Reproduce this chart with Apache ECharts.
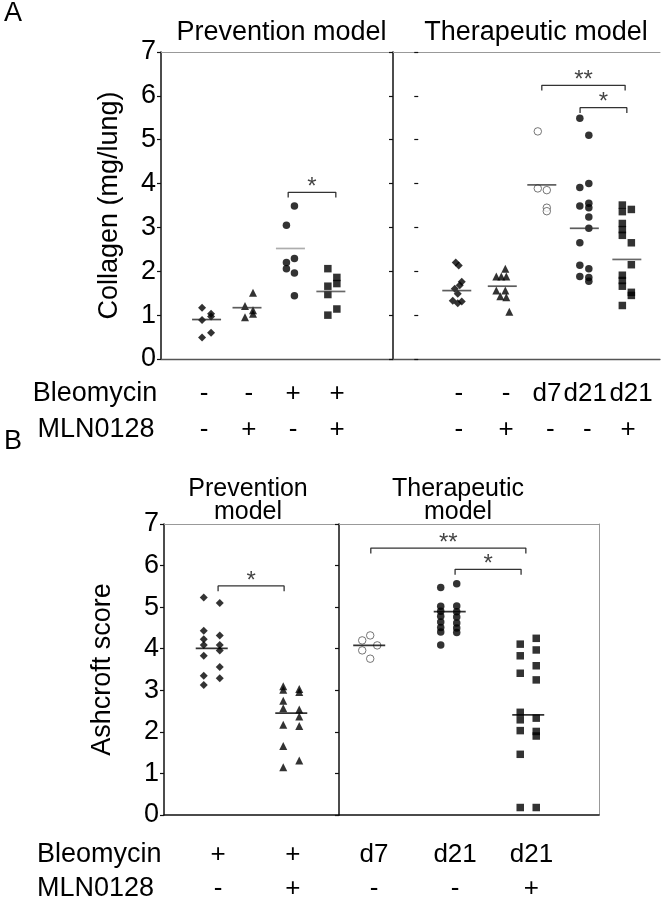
<!DOCTYPE html>
<html><head><meta charset="utf-8">
<script src="https://cdn.jsdelivr.net/npm/echarts@6/dist/echarts.min.js"></script>
<style>html,body{margin:0;padding:0;background:#fff}#c{width:668px;height:901px}</style>
</head><body><div id="c"></div><script>
// ================= DATA =================
const yTicks = [0, 1, 2, 3, 4, 5, 6, 7];
const yLabelA = 'Collagen (mg/lung)';
const yLabelB = 'Ashcroft score';
const titlesA = ['Prevention model', 'Therapeutic model'];
const titlesB = ['Prevention\nmodel', 'Therapeutic\nmodel'];
const rowNames = ['Bleomycin', 'MLN0128'];

// Panel A tick labels
const bleoA_prev = ['-', '-', '+', '+'];
const mlnA_prev  = ['-', '+', '-', '+'];
const bleoA_ther = ['-', '-', 'd7', 'd21', 'd21'];
const mlnA_ther  = ['-', '+', '-', '-', '+'];
// Panel B tick labels
const bleoB_prev = ['+', '+'];
const mlnB_prev  = ['-', '+'];
const bleoB_ther = ['d7', 'd21', 'd21'];
const mlnB_ther  = ['-', '-', '+'];

// Panel A – collagen (mg/lung), prevention model
const colPrev_ctrl   = [1.17, 1.03, 0.97, 0.89, 0.60, 0.49];
const colPrev_mln    = [1.51, 1.21, 1.11, 1.03, 0.95];
const colPrev_bleo   = [3.49, 3.05, 2.29, 2.20, 2.06, 1.96, 1.44];
const colPrev_bleoMln= [2.06, 1.86, 1.72, 1.66, 1.47, 1.14, 1.00];
const colPrev_means  = [0.90, 1.17, 2.52, 1.54];
// Panel A – collagen, therapeutic model
const colTher_ctrl   = [2.20, 2.13, 1.76, 1.68, 1.60, 1.49, 1.33, 1.31, 1.27];
const colTher_mln    = [2.06, 1.88, 1.88, 1.88, 1.56, 1.56, 1.43, 1.41, 1.08];
const colTher_d7     = [5.19, 3.89, 3.85, 3.45, 3.37];
const colTher_d21    = [5.49, 5.10, 4.00, 3.91, 3.55, 3.49, 3.45, 3.24, 2.98, 2.65, 2.14, 2.06, 1.88, 1.86, 1.77];
const colTher_d21Mln = [3.51, 3.41, 3.36, 3.09, 2.95, 2.82, 2.65, 2.15, 1.91, 1.79, 1.66, 1.52, 1.45, 1.22];
const colTher_means  = [1.56, 1.66, 3.97, 2.98, 2.27];
// Panel B – Ashcroft score
const ashPrev_bleo    = [5.23, 5.10, 4.43, 4.32, 4.23, 4.09, 4.09, 3.96, 3.83, 3.56, 3.35, 3.29, 3.13];
const ashPrev_bleoMln = [3.10, 3.03, 3.01, 2.96, 2.75, 2.57, 2.54, 2.37, 2.17, 2.14, 1.66, 1.31, 1.15];
const ashPrev_means   = [4.01, 2.45];
const ashTher_d7      = [4.32, 4.20, 4.08, 3.96, 3.76];
const ashTher_d21     = [5.56, 5.47, 5.03, 5.02, 4.90, 4.89, 4.78, 4.76, 4.64, 4.62, 4.51, 4.50, 4.40, 4.39, 4.09];
const ashTher_d21Mln  = [4.25, 4.11, 3.97, 3.83, 3.59, 3.41, 3.25, 2.47, 2.33, 2.29, 2.03, 2.01, 1.90, 1.46, 0.18, 0.18];
const ashTher_means   = [4.08, 4.89, 2.41];

// significance brackets: [fromGroup, toGroup, y, label]
const sigA_prev = [[3, 4, 3.80, '*']];
const sigA_ther = [[3, 5, 6.24, '**'], [4, 5, 5.73, '*']];
const sigB_prev = [[1, 2, 5.51, '*']];
const sigB_ther = [[1, 3, 6.42, '**'], [2, 3, 5.91, '*']];

// ================= LAYOUT (column jitter in px, nudges in axis units) =================
const J = {
  a1: [[-4.5,4.5,4.5,-4.5,4.5,-4.5],[5,-3,5,5,-3],[5,-3,5,-3,-3,5,5],[-3,6,6,-3,-3,6,-3]],
  a2: [[-1,2,5,3,-2,1,-4,5,1],[6,-3,2,7,-3,6,1,7,10],[-4,-4,5,5,5],
       [-4.5,4.5,4.5,-4.5,4.5,-4.5,4.5,4.5,4.5,-4.5,-4.5,4.5,-4.5,4.5,4.5],
       [-4.5,4.5,-4.5,-4.5,-4.5,-4.5,4.5,4.5,-4.5,-4.5,-4.5,4.5,4.5,-4.5]],
  b1: [[-8,8,-8,8,-8,-8,8,8,-8,8,-8,8,-8],[-8,8,-8,8,-8,-8,8,8,-8,8,-8,8,-8]],
  b2: [[1,-7,8,-7,1],[8,-8,8,-8,-8,8,-8,8,-8,8,-8,8,-8,8,-8],
       [8,-8,8,-8,8,-8,8,-8,8,-8,-8,8,8,-8,-8,8]]
};
const meanOff = { a1: [0,-1,1,0], a2: [0,3,0,0,0], b1: [0,0], b2: [0,1,0] };
const brNudge = {
  a1: [[-0.03, 0.12]],
  a2: [[0.0, -0.04], [-0.1, 0.0]],
  b1: [[0.08, -0.09]],
  b2: [[0.02, -0.03], [0.08, -0.09]]
};
const labelNudge = {
  a1: [-0.06, 0.02, 0.09, 0.15],
  a2bleo: [0.05, 0.16, 0.12, 0.02, 0.10],
  a2mln: [0.05, 0.16, 0.20, 0.07, 0.03],
  b1: [0.08, 0.02],
  b2: [0.06, 0.08, 0.04]
};

const FONT = "'Liberation Sans', Arial, sans-serif";
const chart = echarts.init(document.getElementById('c'), null, {renderer: 'canvas'});

const grids = [
  {left: 161, top: 52, width: 232, height: 307},   // 0 A prevention
  {left: 393, top: 52, width: 267, height: 307},   // 1 A therapeutic
  {left: 164, top: 524, width: 175, height: 291},  // 2 B prevention
  {left: 339, top: 524, width: 260, height: 291}   // 3 B therapeutic
].map(g => Object.assign({outerBoundsMode: 'none', containLabel: false}, g));

const xRange = [[-0.1, 5.5], [-0.5, 5.78], [0.4, 2.6], [0.62, 3.89]];
function lineAxis(grid, pos, color, w) {
  return {type: 'value', gridIndex: grid, position: pos, min: xRange[grid][0], max: xRange[grid][1],
    axisLine: {show: true, onZero: false, lineStyle: {color: color, width: w}},
    axisTick: {show: false}, axisLabel: {show: false}, splitLine: {show: false}};
}
function labelAxis(grid, labels, nudge, margin) {
  return {type: 'value', gridIndex: grid, position: 'bottom', min: xRange[grid][0], max: xRange[grid][1],
    axisLine: {show: false}, axisTick: {show: false}, splitLine: {show: false},
    axisLabel: {show: true, customValues: labels.map((l, i) => i + 1 + nudge[i]),
      formatter: v => labels[Math.round(v) - 1] || '',
      hideOverlap: false, margin: margin, verticalAlign: 'middle', showMinLabel: true, showMaxLabel: true,
      fontFamily: FONT, fontSize: 26, color: '#000'}};
}
const rowA = [35, 71], rowB = [40, 74];
const xAxes = [
  lineAxis(0, 'bottom', '#555', 1.3), lineAxis(0, 'top', '#999', 1),
  lineAxis(1, 'bottom', '#555', 1.3), lineAxis(1, 'top', '#999', 1),
  lineAxis(2, 'bottom', '#111', 1.5), lineAxis(2, 'top', '#999', 1),
  lineAxis(3, 'bottom', '#111', 1.5), lineAxis(3, 'top', '#999', 1),
  labelAxis(0, bleoA_prev, labelNudge.a1, rowA[0]), labelAxis(0, mlnA_prev, labelNudge.a1, rowA[1]),
  labelAxis(1, bleoA_ther, labelNudge.a2bleo, rowA[0]), labelAxis(1, mlnA_ther, labelNudge.a2mln, rowA[1]),
  labelAxis(2, bleoB_prev, labelNudge.b1, rowB[0]), labelAxis(2, mlnB_prev, labelNudge.b1, rowB[1]),
  labelAxis(3, bleoB_ther, labelNudge.b2, rowB[0]), labelAxis(3, mlnB_ther, labelNudge.b2, rowB[1])
];
function yAx(grid, opts) {
  return Object.assign({type: 'value', gridIndex: grid, position: 'left', min: yTicks[0], max: yTicks[yTicks.length-1], interval: 1,
    axisLine: {show: true, onZero: false, lineStyle: {color: '#111', width: 1.5}},
    axisTick: {show: true, inside: false, length: 4, lineStyle: {color: '#111', width: 1.2}},
    axisLabel: {show: false}, splitLine: {show: false}}, opts);
}
const tickLabel = {show: true, margin: 5, fontFamily: FONT, fontSize: 27, color: '#000'};
const yAxes = [
  yAx(0, {axisLabel: tickLabel, name: yLabelA, nameLocation: 'middle', nameGap: 38,
          nameTextStyle: {fontFamily: FONT, fontSize: 27, color: '#000'}}),                 // 0
  yAx(1, {}),                                                                             // 1
  yAx(1, {axisLine: {show: false}, axisTick: {show: true, inside: true, length: 4, lineStyle: {color: '#111', width: 1.2}}}), // 2
  yAx(2, {axisLabel: tickLabel, name: yLabelB, nameLocation: 'middle', nameGap: 48,
          nameTextStyle: {fontFamily: FONT, fontSize: 27, color: '#000'}}),                 // 3
  yAx(3, {}),                                                                             // 4
  yAx(3, {position: 'right', axisLine: {show: true, onZero: false, lineStyle: {color: '#999', width: 1}}, axisTick: {show: false}}) // 5
];
const panelAxes = {a1: {x: 0, y: 0}, a2: {x: 2, y: 1}, b1: {x: 4, y: 3}, b2: {x: 6, y: 4}};

const series = [];
function addGroup(panel, gi, vals, sym, size, style) {
  const ax = panelAxes[panel];
  const offs = J[panel][gi];
  series.push({type: 'scatter', xAxisIndex: ax.x, yAxisIndex: ax.y, symbol: sym, symbolSize: size,
    itemStyle: style, z: 3, silent: true,
    data: vals.map((v, i) => ({value: [gi + 1, v], symbolOffset: [offs[i] || 0, 0]}))});
}
function addMeans(panel, means, colors, width) {
  const ax = panelAxes[panel];
  means.forEach((m, i) => {
    series.push({type: 'scatter', xAxisIndex: ax.x, yAxisIndex: ax.y, symbol: 'rect',
      symbolSize: [width, 1.7], symbolOffset: [meanOff[panel][i], 0], z: 4, silent: true,
      itemStyle: {color: colors[i]}, data: [[i + 1, m]]});
  });
}
function addSig(panel, list, drop) {
  const ax = panelAxes[panel];
  list.forEach((s, k) => {
    const x1 = s[0] + brNudge[panel][k][0], x2 = s[1] + brNudge[panel][k][1], y = s[2];
    series.push({type: 'line', xAxisIndex: ax.x, yAxisIndex: ax.y, symbol: 'none', silent: true, z: 5,
      lineStyle: {color: '#333', width: 1.3}, data: [[x1, y - drop], [x1, y], [x2, y], [x2, y - drop]]});
    series.push({type: 'scatter', xAxisIndex: ax.x, yAxisIndex: ax.y, symbol: 'circle', symbolSize: 1, silent: true, z: 5,
      itemStyle: {color: 'rgba(0,0,0,0)'}, data: [[(x1 + x2) / 2, y]],
      label: {show: true, position: 'inside', offset: [0, -5], formatter: s[3],
        fontFamily: FONT, fontSize: 24, color: '#111'}});
  });
}
const black = {color: '#000'};
const open = {color: '#fff', borderColor: '#555', borderWidth: 1};

addGroup('a1', 0, colPrev_ctrl, 'diamond', 8, black);
addGroup('a1', 1, colPrev_mln, 'triangle', 8, black);
addGroup('a1', 2, colPrev_bleo, 'circle', 7.5, black);
addGroup('a1', 3, colPrev_bleoMln, 'rect', 7.5, black);
addMeans('a1', colPrev_means, ['#222', '#333', '#999', '#444'], 29);
addSig('a1', sigA_prev, 0.12);

addGroup('a2', 0, colTher_ctrl, 'diamond', 8, black);
addGroup('a2', 1, colTher_mln, 'triangle', 8, black);
addGroup('a2', 2, colTher_d7, 'circle', 7.5, open);
addGroup('a2', 3, colTher_d21, 'circle', 7.5, black);
addGroup('a2', 4, colTher_d21Mln, 'rect', 7.5, black);
addMeans('a2', colTher_means, ['#333', '#333', '#333', '#333', '#444'], 29);
addSig('a2', sigA_ther, 0.12);

addGroup('b1', 0, ashPrev_bleo, 'diamond', 8, black);
addGroup('b1', 1, ashPrev_bleoMln, 'triangle', 8, black);
addMeans('b1', ashPrev_means, ['#000', '#000'], 32);
addSig('b1', sigB_prev, 0.13);

addGroup('b2', 0, ashTher_d7, 'circle', 7.5, open);
addGroup('b2', 1, ashTher_d21, 'circle', 7.5, black);
addGroup('b2', 2, ashTher_d21Mln, 'rect', 7.5, black);
addMeans('b2', ashTher_means, ['#000', '#000', '#000'], 32);
addSig('b2', sigB_ther, 0.13);

function txt(text, x, y, size, align, extra) {
  return {type: 'text', x: x, y: y, silent: true,
    style: Object.assign({text: text, fontFamily: FONT, fontSize: size, fill: '#000',
      textAlign: align, textVerticalAlign: 'middle'}, extra || {})};
}
const graphics = [
  txt('A', 4, 14, 27, 'left'),
  txt('B', 4, 442, 27, 'left'),
  txt(titlesA[0], 281.5, 33, 27, 'center'),
  txt(titlesA[1], 536, 33, 27, 'center'),
  txt(titlesB[0], 248, 501, 25, 'center', {lineHeight: 23}),
  txt(titlesB[1], 458, 501, 25, 'center', {lineHeight: 23}),
  txt(rowNames[0], 95, 394, 27, 'center'),
  txt(rowNames[1], 96, 430, 27, 'center'),
  txt(rowNames[0], 37, 855, 27, 'left'),
  txt(rowNames[1], 37, 889, 27, 'left')
];

chart.setOption({
  animation: false,
  backgroundColor: '#fff',
  textStyle: {fontFamily: FONT},
  grid: grids,
  xAxis: xAxes,
  yAxis: yAxes,
  series: series,
  graphic: graphics
});
</script></body></html>
